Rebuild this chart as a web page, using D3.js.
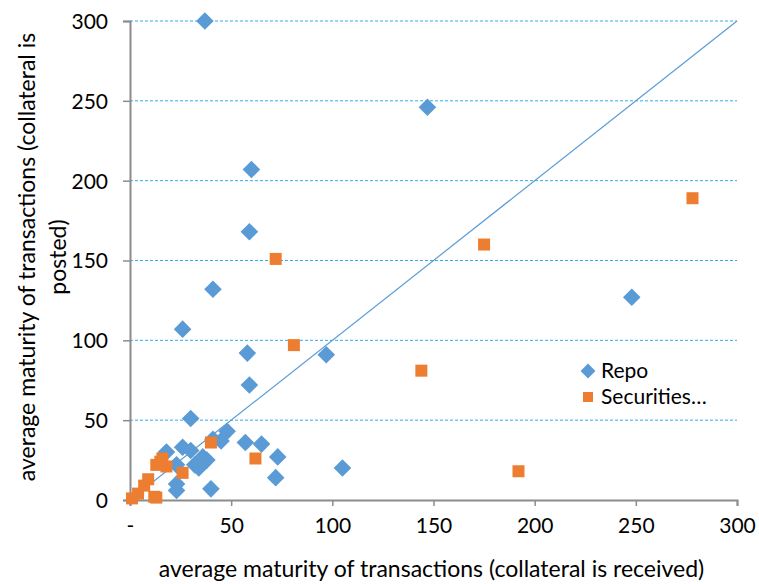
<!DOCTYPE html>
<html>
<head>
<meta charset="utf-8">
<script src="https://cdn.jsdelivr.net/npm/d3@7"></script>
<style>
  body { margin: 0; background: #fff; }
  text { font-family: Lato, "Open Sans", sans-serif; fill: #000; }
</style>
</head>
<body>
<div id="chart"></div>
<script>
"use strict";

// [received, posted]
const repo = [
    [37, 300], [147, 246], [60, 207], [59, 168], [41, 132], [26, 107],
    [58, 92], [97, 91], [59, 72], [248, 127], [30, 51], [48, 43],
    [41, 38], [45, 37], [57, 36], [65, 35], [73, 27], [105, 20],
    [72, 14], [40, 7], [23, 6], [23, 10], [18, 30], [26, 33],
    [30, 31], [23, 22], [32, 22], [36, 23], [34, 20], [38, 25], [36, 27],
];

const securities = [
    [278, 189], [175, 160], [72, 151], [81, 97], [144, 81], [192, 18],
    [40, 36], [62, 26], [26, 17], [15, 24], [16, 26], [18, 21],
    [13, 22], [9, 13], [7, 9], [4, 4], [1, 1], [12, 2], [13, 1.5],
];

const xticks = [0, 50, 100, 150, 200, 250, 300];
const yticks = [0, 50, 100, 150, 200, 250, 300];
const legendLabels = ["Repo", "Securities…"];

const WIDTH = 759;
const HEIGHT = 584;
const LEFT = 130, RIGHT = 737, TOP = 21, BOTTOM = 500;

const svg = d3.select("#chart").append("svg")
    .attr("width", WIDTH)
    .attr("height", HEIGHT);

const xscale = d3.scaleLinear().domain([0, 300]).range([LEFT, RIGHT]);
const yscale = d3.scaleLinear().domain([0, 300]).range([BOTTOM, TOP]);

// gridlines
svg.append("g")
    .selectAll("line")
    .data(yticks.filter(d => d > 0))
    .join("line")
    .attr("x1", LEFT)
    .attr("x2", RIGHT)
    .attr("y1", d => yscale(d))
    .attr("y2", d => yscale(d))
    .attr("stroke", "#2eaee6")
    .attr("stroke-width", 1)
    .attr("stroke-dasharray", "3,2");

// axes
const xaxis = svg.append("g")
    .attr("transform", `translate(0,${BOTTOM})`)
    .call(d3.axisBottom(xscale)
        .tickValues(xticks)
        .tickSize(6)
        .tickPadding(12)
        .tickFormat(d => d === 0 ? "-" : d));

const yaxis = svg.append("g")
    .attr("transform", `translate(${LEFT},0)`)
    .call(d3.axisLeft(yscale)
        .tickValues(yticks)
        .tickSize(7)
        .tickPadding(15));

[xaxis, yaxis].forEach(ax => {
    ax.select(".domain").attr("stroke", "#8c8c8c").attr("stroke-width", 2);
    ax.selectAll(".tick line").attr("stroke", "#8c8c8c").attr("stroke-width", 1.5);
    ax.selectAll(".tick text")
        .attr("font-family", "Lato, 'Open Sans', sans-serif")
        .attr("font-size", 21)
        .attr("fill", "#000");
});
yaxis.selectAll(".tick text").attr("dy", "0.35em");

// diagonal reference line
svg.append("line")
    .attr("x1", xscale(0))
    .attr("y1", yscale(0))
    .attr("x2", xscale(300))
    .attr("y2", yscale(300))
    .attr("stroke", "#5b9bd5")
    .attr("stroke-width", 1.2);

const diamond = d3.symbol().type(d3.symbolSquare).size(155);

// repo diamonds
svg.append("g")
    .selectAll("path")
    .data(repo)
    .join("path")
    .attr("d", diamond)
    .attr("transform", d => `translate(${xscale(d[0])},${yscale(d[1])}) rotate(45)`)
    .attr("fill", "#5b9bd5");

// securities squares
const SQ = 12;
svg.append("g")
    .selectAll("rect")
    .data(securities)
    .join("rect")
    .attr("x", d => xscale(d[0]) - SQ / 2)
    .attr("y", d => yscale(d[1]) - SQ / 2)
    .attr("width", SQ)
    .attr("height", SQ)
    .attr("fill", "#ed7d31");

// legend
const legend = svg.append("g").attr("transform", "translate(588,371)");
legend.append("path")
    .attr("d", d3.symbol().type(d3.symbolSquare).size(110))
    .attr("transform", "rotate(45)")
    .attr("fill", "#5b9bd5");
legend.append("rect")
    .attr("x", -5).attr("y", 21)
    .attr("width", 10).attr("height", 10)
    .attr("fill", "#ed7d31");
legend.selectAll("text")
    .data(legendLabels)
    .join("text")
    .attr("x", 13)
    .attr("y", (d, i) => i * 26)
    .attr("dy", "0.35em")
    .attr("font-size", 21)
    .text(d => d);

// axis titles
svg.append("text")
    .attr("x", (LEFT + RIGHT) / 2 - 2)
    .attr("y", 577)
    .attr("text-anchor", "middle")
    .attr("font-size", 23)
    .text("average maturity of transactions (collateral is received)");

const ytitle = svg.append("text")
    .attr("transform", "translate(27,257) rotate(-90)")
    .attr("text-anchor", "middle")
    .attr("font-size", 23);
ytitle.append("tspan").attr("x", 0).attr("dy", "0.35em")
    .text("average maturity of transactions (collateral is");
ytitle.append("tspan").attr("x", 0).attr("dy", "1.35em")
    .text("posted)");
</script>
</body>
</html>
